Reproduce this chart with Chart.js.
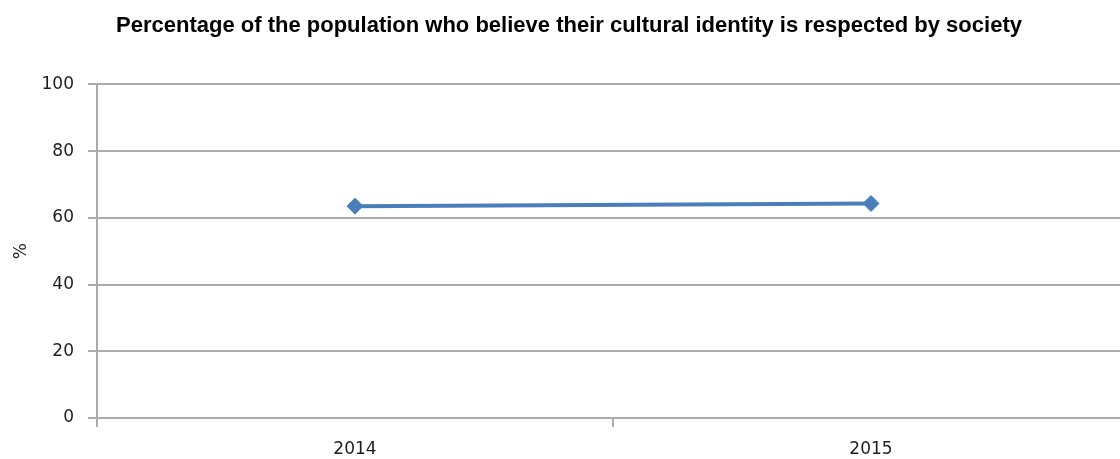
<!DOCTYPE html>
<html>
<head>
<meta charset="utf-8">
<script src="https://cdn.jsdelivr.net/npm/chart.js@4"></script>
<style>
  html, body { margin: 0; padding: 0; background: #fff; overflow: hidden; }
  #wrap { width: 1138px; height: 459px; }
</style>
</head>
<body>
<div id="wrap"><canvas id="chart-canvas" width="1138" height="459"></canvas></div>
<script>
var years = ['2014', '2015'];
var respected = [63.5, 64.3];
var yTicks = [0, 20, 40, 60, 80, 100];

var canvas = document.getElementById('chart-canvas');
var ctx = canvas.getContext('2d');

var gridGrey = '#ababab';
var textColor = '#1e1e1e';
var tickFont = { family: "'DejaVu Sans', Verdana, sans-serif", size: 17 };

let object = {
    type: 'line',
    data: {
        labels: years,
        datasets: [{
            label: '%',
            data: respected,
            borderColor: '#4a7ebb',
            backgroundColor: '#4a7ebb',
            borderWidth: 4,
            pointStyle: 'rectRot',
            pointRadius: 8,
            pointBorderWidth: 1,
            tension: 0
        }]
    },
    options: {
        responsive: false,
        animation: false,
        layout: { padding: 0 },
        plugins: {
            legend: { display: false },
            tooltip: { enabled: false },
            title: {
                display: true,
                text: 'Percentage of the population who believe their cultural identity is respected by society',
                color: '#000',
                font: { family: "'Liberation Sans', Arial, sans-serif", size: 22, weight: 'bold', lineHeight: 1.2 },
                padding: { top: 13, bottom: 45 }
            }
        },
        scales: {
            x: {
                offset: true,
                afterFit: function (scale) { scale.height = 41; },
                grid: {
                    offset: true,
                    drawOnChartArea: false,
                    drawTicks: true,
                    tickLength: 9,
                    color: gridGrey,
                    lineWidth: 2
                },
                border: { color: gridGrey, width: 2 },
                ticks: { color: textColor, font: tickFont, padding: 12, maxRotation: 0 }
            },
            y: {
                min: 0,
                max: 100,
                afterFit: function (scale) { scale.width = 97; },
                afterBuildTicks: function (scale) {
                    scale.ticks = yTicks.map(function (v) { return { value: v }; });
                },
                grid: {
                    color: gridGrey,
                    lineWidth: 2,
                    drawTicks: true,
                    tickLength: 9
                },
                border: { color: gridGrey, width: 2 },
                ticks: { color: textColor, font: tickFont, padding: 14 },
                title: {
                    display: true,
                    text: '%',
                    color: textColor,
                    font: tickFont,
                    padding: { top: 11, bottom: 0 }
                }
            }
        }
    }
};

var chart = new Chart(ctx, object);
</script>
</body>
</html>
